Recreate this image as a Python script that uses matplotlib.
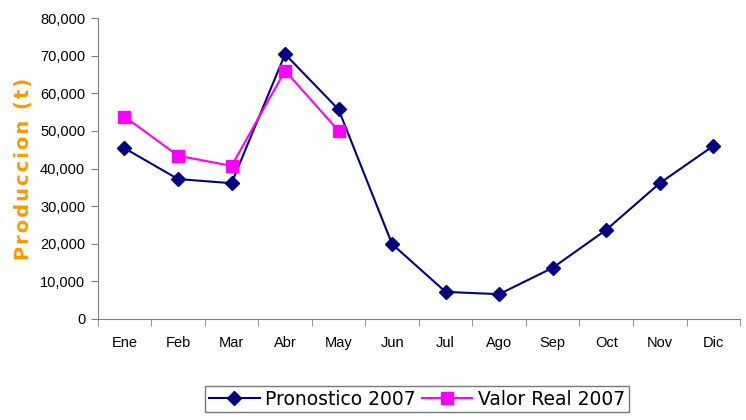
import matplotlib
matplotlib.use("Agg")
import matplotlib.pyplot as plt
from matplotlib.ticker import FuncFormatter, MultipleLocator

meses = ["Ene", "Feb", "Mar", "Abr", "May", "Jun", "Jul", "Ago", "Sep", "Oct", "Nov", "Dic"]
pronostico = [45400, 37200, 36100, 70400, 55700, 19900, 7200, 6600, 13600, 23700, 36100, 46000]
valor_real = [53800, 43400, 40700, 66000, 50000]

fig = plt.figure(figsize=(7.46, 4.2), dpi=100)
ax = fig.add_axes([0.131, 0.2405, 0.861, 0.7165])

x = list(range(len(meses)))
ax.plot(x, pronostico, color="#000080", marker="D", markersize=7, linewidth=1.5,
        label="Pronostico 2007")
ax.plot(x[:len(valor_real)], valor_real, color="#FF00FF", marker="s", markersize=8,
        linewidth=1.5, label="Valor Real 2007")

ax.set_xlim(-0.5, len(meses) - 0.5)
ax.set_ylim(0, 80000)
ax.yaxis.set_major_locator(MultipleLocator(10000))
ax.yaxis.set_major_formatter(FuncFormatter(lambda v, p: f"{int(v):,}"))

ax.set_xticks(x)
ax.set_xticklabels(meses)
ax.set_xticks([i - 0.5 for i in range(len(meses) + 1)], minor=True)
ax.tick_params(axis="x", which="major", length=0, pad=12)
ax.tick_params(axis="x", which="minor", length=5, color="#808080")
ax.tick_params(axis="y", length=5, color="#808080", pad=4)
for lab in ax.get_xticklabels() + ax.get_yticklabels():
    lab.set_fontfamily("Liberation Sans")
    lab.set_fontsize(10.5)

for s in ["top", "right"]:
    ax.spines[s].set_visible(False)
for s in ["left", "bottom"]:
    ax.spines[s].set_color("#808080")

# letter-spaced label, hair spaces between the letters
ylab = "\u200a".join("Produccion (t)")
ax.set_ylabel(ylab, color="#FF9900", fontsize=14, fontweight="bold")
ax.yaxis.set_label_coords(-0.1, 0.5)

leg = ax.legend(loc="upper center", bbox_to_anchor=(0.497, -0.222), ncol=2,
                fontsize=13.5, frameon=True, fancybox=False, handlelength=2.7,
                handletextpad=0.3, columnspacing=0.3, borderpad=0.2,
                borderaxespad=0)
leg.get_frame().set_edgecolor("#555555")
leg.get_frame().set_linewidth(1)

fig.savefig("out.png", dpi=100)
